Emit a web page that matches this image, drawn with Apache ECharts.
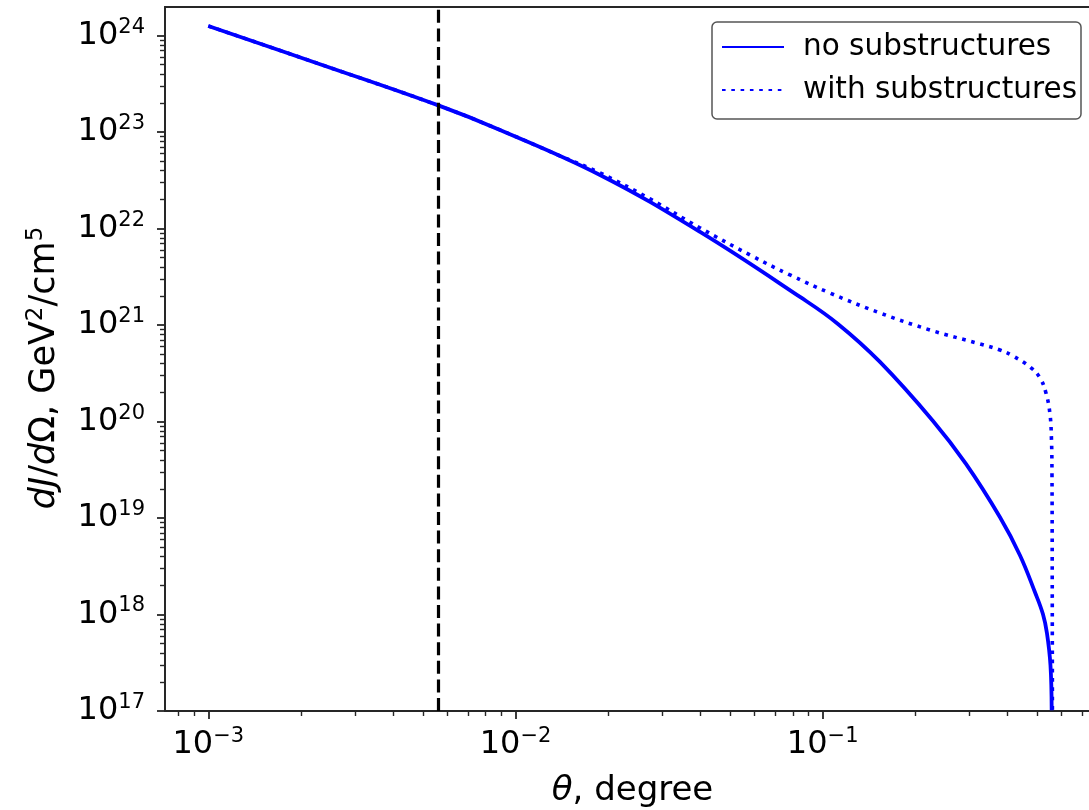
<!DOCTYPE html>
<html><head><meta charset="utf-8">
<script src="https://cdn.jsdelivr.net/npm/echarts@6/dist/echarts.min.js"></script>
<style>html,body{margin:0;padding:0;background:#fff}#c{width:1089px;height:810px}</style>
</head><body><div id="c"></div>
<script>
// θ in degrees, dJ/dΩ in GeV^2/cm^5
const thetaNoSub = [0.001, 0.00231, 0.005553, 0.008903, 0.01884, 0.03988, 0.08436, 0.1121, 0.1536, 0.2286, 0.2927, 0.3777, 0.4386, 0.4910, 0.5213, 0.5371, 0.5514, 0.5564];
const dJNoSub    = [1.26e24, 5.06e23, 1.915e23, 1.054e23, 3.60e22, 9.24e21, 1.958e21, 1.028e21, 4.15e20, 1.015e20, 3.64e19, 1.019e19, 4.12e18, 1.70e18, 1.006e18, 6.39e17, 2.98e17, 1.018e17];
const thetaWithSub = [0.001, 0.00231, 0.005553, 0.008903, 0.01398, 0.01884, 0.02741, 0.03988, 0.05800, 0.07825, 0.1056, 0.1536, 0.2235, 0.3251, 0.3777, 0.4164, 0.4730, 0.5098, 0.5331, 0.5494, 0.5556, 0.5577, 0.5586, 0.5594];
const dJWithSub    = [1.26e24, 5.06e23, 1.915e23, 1.054e23, 5.66e22, 3.78e22, 2.03e22, 1.016e22, 5.33e21, 3.31e21, 2.15e21, 1.335e21, 8.90e20, 6.37e20, 5.52e20, 4.78e20, 3.68e20, 2.83e20, 1.98e20, 1.198e20, 6.45e19, 2.80e19, 3.67e18, 1.02e17];
const dashedTheta = 0.00556;
const seriesNames = ['no substructures', 'with substructures'];
const xTickExps = [-3, -2, -1];
const yTickExps = [17, 18, 19, 20, 21, 22, 23, 24];
const xMinLog = -3.141, xMaxLog = -0.0973;
const yMinLog = 17, yMaxLog = 24.297;

const FONT = 'DejaVu Sans';
const AX = '#262626';
function supTxt(e){ e = Math.round(e); return (e < 0 ? '\u2212' : '') + Math.abs(e); }
function minorTicks(lo, hi){
  const out = [];
  for (let n = Math.floor(lo) - 1; n <= Math.ceil(hi); n++)
    for (let k = 2; k <= 9; k++){ const v = n + Math.log10(k); if (v > lo && v < hi) out.push(v); }
  return out;
}
const toPts = (xs, ys) => xs.map((t, i) => [Math.log10(t), Math.log10(ys[i])]);
const tickRich = {
  b: {fontSize: 32, lineHeight: 38, fontFamily: FONT, color: '#000'},
  s: {fontSize: 21, lineHeight: 21, verticalAlign: 'top', fontFamily: FONT, color: '#000'}
};
const fmt = v => '{b|10}{s|' + supTxt(v) + '}';

const chart = echarts.init(document.getElementById('c'), null, {renderer: 'canvas'});
chart.setOption({
  animation: false,
  backgroundColor: '#fff',
  grid: {left: 165, top: 7, width: 935, height: 704, containLabel: false, outerBoundsMode: 'none',
         show: true, borderColor: AX, borderWidth: 1.8, backgroundColor: 'transparent'},
  legend: {
    left: 712, top: 22, orient: 'vertical', itemWidth: 62, itemHeight: 4, itemGap: 13,
    padding: [10, 4, 14, 9], borderColor: '#555', borderWidth: 1.5, borderRadius: 5,
    backgroundColor: 'rgba(255,255,255,0.85)',
    itemStyle: {opacity: 0},
    formatter: n => '{t|' + n + '}',
    textStyle: {fontSize: 29.5, fontFamily: FONT, color: '#000',
      rich: {t: {fontSize: 29.5, fontFamily: FONT, color: '#000', lineHeight: 30, padding: [0, 0, 0, 14]}}},
    data: seriesNames
  },
  xAxis: [{
    type: 'value', min: xMinLog, max: xMaxLog, position: 'bottom',
    axisLine: {show: true, onZero: false, lineStyle: {color: AX, width: 1.8}},
    axisTick: {show: true, customValues: xTickExps, length: 8, lineStyle: {color: AX, width: 1.8}},
    axisLabel: {customValues: xTickExps, formatter: fmt, margin: 15, rich: tickRich},
    splitLine: {show: false},
    name: '{i|\u03b8}{n|, degree}', nameLocation: 'middle', nameGap: 63,
    nameTextStyle: {rich: {i: {fontSize: 34, fontStyle: 'italic', fontFamily: FONT, color: '#000'},
                           n: {fontSize: 34, fontFamily: FONT, color: '#000'}}}
  }, {
    type: 'value', min: xMinLog, max: xMaxLog, position: 'bottom', gridIndex: 0,
    axisLine: {show: false, onZero: false},
    axisTick: {show: true, customValues: minorTicks(xMinLog, xMaxLog), length: 5, lineStyle: {color: AX, width: 1.4}},
    axisLabel: {show: false}, splitLine: {show: false}
  }],
  yAxis: [{
    type: 'value', min: yMinLog, max: yMaxLog, position: 'left',
    axisLine: {show: true, onZero: false, lineStyle: {color: AX, width: 1.8}},
    axisTick: {show: true, customValues: yTickExps, length: 8, lineStyle: {color: AX, width: 1.8}},
    axisLabel: {customValues: yTickExps, formatter: fmt, margin: 20, rich: tickRich},
    splitLine: {show: false},
    name: '{i|dJ}{n|/}{i|d}{n|\u03a9, GeV}{s|2}{n|/cm}{s|5}', nameLocation: 'middle', nameGap: 100, nameRotate: 90,
    nameTextStyle: {padding: [0, 18, 0, 0], rich: {
      i: {fontSize: 35, fontStyle: 'italic', fontFamily: FONT, color: '#000', lineHeight: 40},
      n: {fontSize: 35, fontFamily: FONT, color: '#000', lineHeight: 40},
      s: {fontSize: 23, fontFamily: FONT, color: '#000', lineHeight: 23, verticalAlign: 'top'}}}
  }, {
    type: 'value', min: yMinLog, max: yMaxLog, position: 'left', gridIndex: 0,
    axisLine: {show: false, onZero: false},
    axisTick: {show: true, customValues: minorTicks(yMinLog, yMaxLog), length: 5, lineStyle: {color: AX, width: 1.4}},
    axisLabel: {show: false}, splitLine: {show: false}
  }],
  series: [{
    name: seriesNames[0], type: 'line', xAxisIndex: 0, yAxisIndex: 0,
    data: toPts(thetaNoSub, dJNoSub), showSymbol: false, symbol: 'none',
    smooth: 0.4, clip: true,
    lineStyle: {color: '#0000ff', width: 3.8, type: 'solid'}, itemStyle: {color: '#0000ff'},
    markLine: {silent: true, symbol: ['none', 'none'], label: {show: false},
      lineStyle: {color: '#000', width: 3.2, type: [13, 5.6]},
      data: [{xAxis: Math.log10(dashedTheta)}]}
  }, {
    name: seriesNames[1], type: 'line', xAxisIndex: 0, yAxisIndex: 0,
    data: toPts(thetaWithSub, dJWithSub), showSymbol: false, symbol: 'none',
    smooth: 0.4, clip: true,
    lineStyle: {color: '#0000ff', width: 3.6, type: [3.6, 5.7], cap: 'butt'}, itemStyle: {color: '#0000ff'}
  }]
});
</script></body></html>
